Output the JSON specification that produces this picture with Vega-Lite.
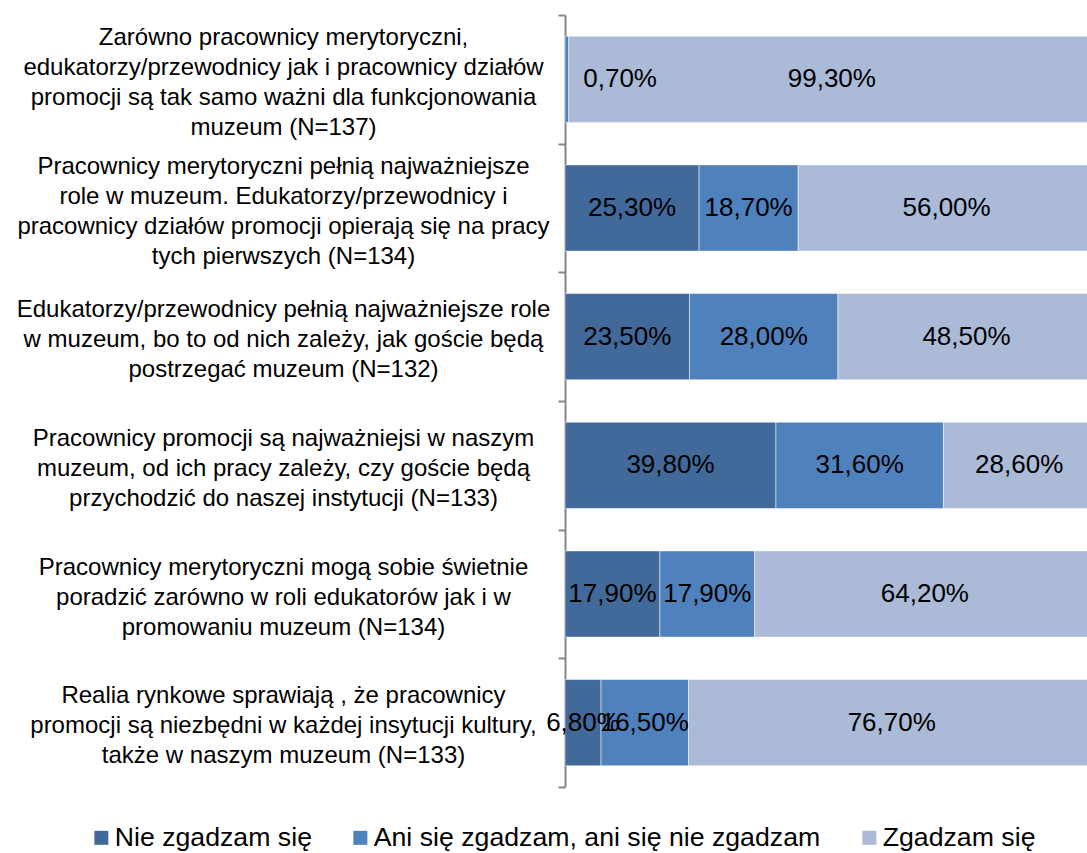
{
  "$schema": "https://vega.github.io/schema/vega-lite/v6.json",
  "autosize": "none",
  "width": 530,
  "height": 772,
  "padding": {"left": 565, "top": 15, "right": 0, "bottom": 66},
  "background": "white",
  "config": {
    "view": {"stroke": null},
    "locale": {"number": {"decimal": ",", "thousands": " ", "grouping": [3], "currency": ["", " zł"]}},
    "font": "Liberation Sans"
  },
  "data": {
    "values": [
      {"cat": "Zarówno pracownicy merytoryczni,|edukatorzy/przewodnicy jak i pracownicy działów|promocji są tak samo ważni dla funkcjonowania|muzeum (N=137)", "resp": "Ani się zgadzam, ani się nie zgadzam", "ord": 2, "value": 0.007},
      {"cat": "Zarówno pracownicy merytoryczni,|edukatorzy/przewodnicy jak i pracownicy działów|promocji są tak samo ważni dla funkcjonowania|muzeum (N=137)", "resp": "Zgadzam się", "ord": 3, "value": 0.993},
      {"cat": "Pracownicy merytoryczni pełnią najważniejsze|role w muzeum. Edukatorzy/przewodnicy i|pracownicy działów promocji opierają się na pracy|tych pierwszych (N=134)", "resp": "Nie zgadzam się", "ord": 1, "value": 0.253},
      {"cat": "Pracownicy merytoryczni pełnią najważniejsze|role w muzeum. Edukatorzy/przewodnicy i|pracownicy działów promocji opierają się na pracy|tych pierwszych (N=134)", "resp": "Ani się zgadzam, ani się nie zgadzam", "ord": 2, "value": 0.187},
      {"cat": "Pracownicy merytoryczni pełnią najważniejsze|role w muzeum. Edukatorzy/przewodnicy i|pracownicy działów promocji opierają się na pracy|tych pierwszych (N=134)", "resp": "Zgadzam się", "ord": 3, "value": 0.56},
      {"cat": "Edukatorzy/przewodnicy pełnią najważniejsze role|w muzeum, bo to od nich zależy, jak goście będą|postrzegać muzeum (N=132)", "resp": "Nie zgadzam się", "ord": 1, "value": 0.235},
      {"cat": "Edukatorzy/przewodnicy pełnią najważniejsze role|w muzeum, bo to od nich zależy, jak goście będą|postrzegać muzeum (N=132)", "resp": "Ani się zgadzam, ani się nie zgadzam", "ord": 2, "value": 0.28},
      {"cat": "Edukatorzy/przewodnicy pełnią najważniejsze role|w muzeum, bo to od nich zależy, jak goście będą|postrzegać muzeum (N=132)", "resp": "Zgadzam się", "ord": 3, "value": 0.485},
      {"cat": "Pracownicy promocji są najważniejsi w naszym|muzeum, od ich pracy zależy, czy goście będą|przychodzić do naszej instytucji (N=133)", "resp": "Nie zgadzam się", "ord": 1, "value": 0.398},
      {"cat": "Pracownicy promocji są najważniejsi w naszym|muzeum, od ich pracy zależy, czy goście będą|przychodzić do naszej instytucji (N=133)", "resp": "Ani się zgadzam, ani się nie zgadzam", "ord": 2, "value": 0.316},
      {"cat": "Pracownicy promocji są najważniejsi w naszym|muzeum, od ich pracy zależy, czy goście będą|przychodzić do naszej instytucji (N=133)", "resp": "Zgadzam się", "ord": 3, "value": 0.286},
      {"cat": "Pracownicy merytoryczni mogą sobie świetnie|poradzić zarówno w roli edukatorów jak i w|promowaniu muzeum (N=134)", "resp": "Nie zgadzam się", "ord": 1, "value": 0.179},
      {"cat": "Pracownicy merytoryczni mogą sobie świetnie|poradzić zarówno w roli edukatorów jak i w|promowaniu muzeum (N=134)", "resp": "Ani się zgadzam, ani się nie zgadzam", "ord": 2, "value": 0.179},
      {"cat": "Pracownicy merytoryczni mogą sobie świetnie|poradzić zarówno w roli edukatorów jak i w|promowaniu muzeum (N=134)", "resp": "Zgadzam się", "ord": 3, "value": 0.642},
      {"cat": "Realia rynkowe sprawiają , że pracownicy|promocji są niezbędni w każdej insytucji kultury,|także w naszym muzeum (N=133)", "resp": "Nie zgadzam się", "ord": 1, "value": 0.068},
      {"cat": "Realia rynkowe sprawiają , że pracownicy|promocji są niezbędni w każdej insytucji kultury,|także w naszym muzeum (N=133)", "resp": "Ani się zgadzam, ani się nie zgadzam", "ord": 2, "value": 0.165},
      {"cat": "Realia rynkowe sprawiają , że pracownicy|promocji są niezbędni w każdej insytucji kultury,|także w naszym muzeum (N=133)", "resp": "Zgadzam się", "ord": 3, "value": 0.767}
    ]
  },
  "transform": [
    {"stack": "value", "groupby": ["cat"], "sort": [{"field": "ord", "order": "ascending"}], "as": ["v0", "v1"]},
    {"calculate": "datum.value < 0.02 ? datum.v1 + 0.097 : (datum.v0 + datum.v1) / 2", "as": "vmid"}
  ],
  "encoding": {
    "y": {
      "field": "cat",
      "type": "nominal",
      "sort": null,
      "title": null,
      "scale": {"paddingInner": 0, "paddingOuter": 0},
      "axis": {
        "labelExpr": "split(datum.label, '|')",
        "labelFont": "Liberation Sans",
        "labelFontSize": 24,
        "labelColor": "#000000",
        "labelLimit": 0,
        "labelAlign": "center",
        "labelBaseline": "middle",
        "labelLineHeight": 30,
        "labelPadding": 275,
        "labelOffset": {"expr": "3 - (length(split(datum.value, '|')) - 1) * 15"},
        "tickBand": "extent",
        "tickSize": 7,
        "tickColor": "#868686",
        "tickWidth": 2,
        "domainColor": "#868686",
        "domainWidth": 2
      }
    }
  },
  "layer": [
    {
      "mark": {"type": "bar", "height": {"band": 0.67}, "stroke": "#ffffff", "strokeWidth": 1, "strokeOpacity": 0.5},
      "encoding": {
        "x": {"field": "v0", "type": "quantitative", "scale": {"domain": [0, 1], "nice": false}, "axis": null},
        "x2": {"field": "v1"},
        "color": {
          "field": "resp",
          "type": "nominal",
          "scale": {
            "domain": ["Nie zgadzam się", "Ani się zgadzam, ani się nie zgadzam", "Zgadzam się"],
            "range": ["#41699A", "#4F81BD", "#AABAD7"]
          },
          "legend": {
            "title": null,
            "orient": "none",
            "legendX": -477,
            "legendY": 809,
            "direction": "horizontal",
            "columnPadding": 35,
            "symbolType": "square",
            "symbolSize": 196,
            "symbolStrokeWidth": 0,
            "labelFont": "Liberation Sans",
            "labelFontSize": 26.7,
            "labelColor": "#000000",
            "labelOffset": 0,
            "labelLimit": 0
          }
        }
      }
    },
    {
      "mark": {"type": "text", "font": "Liberation Sans", "fontSize": 26, "color": "#000000", "align": "center", "baseline": "middle"},
      "encoding": {
        "x": {"field": "vmid", "type": "quantitative"},
        "text": {"field": "value", "type": "quantitative", "format": ".2%"}
      }
    }
  ]
}
